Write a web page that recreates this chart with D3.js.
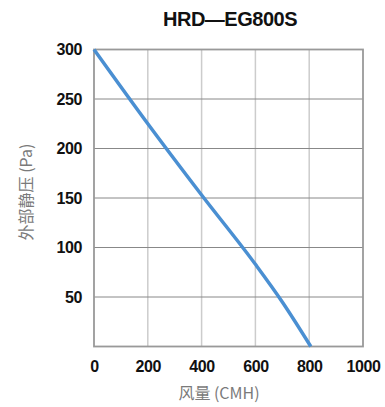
<!DOCTYPE html>
<html><head><meta charset="utf-8">
<script src="https://cdn.jsdelivr.net/npm/d3@7"></script>
<style>
html,body{margin:0;padding:0;background:#fff;}
svg{display:block;}
</style></head>
<body>
<svg id="chart" width="385" height="407"></svg>
<script>
const title = "HRD\u2014EG800S";
const xLabel = "风量 (CMH)";
const yLabel = "外部静压 (Pa)";
const xTicks = [0, 200, 400, 600, 800, 1000];
const yTicks = [50, 100, 150, 200, 250, 300];
const airflow = [0, 200, 400, 600, 700, 806];
const pressure = [300, 225, 153, 83, 45, 0];

const svg = d3.select("#chart");
const mLeft = 94, mRight = 363, mTop = 49.5, mBottom = 346.5;
const x = d3.scaleLinear().domain([0, 1000]).range([mLeft, mRight]);
const y = d3.scaleLinear().domain([0, 300]).range([mBottom, mTop]);

svg.append("g").selectAll("line").data(xTicks.slice(1, -1)).join("line")
  .attr("x1", d => x(d)).attr("x2", d => x(d))
  .attr("y1", mTop).attr("y2", mBottom)
  .attr("stroke", "#cccccc").attr("stroke-width", 1.5);
svg.append("g").selectAll("line").data(yTicks.slice(0, -1)).join("line")
  .attr("x1", mLeft).attr("x2", mRight)
  .attr("y1", d => y(d)).attr("y2", d => y(d))
  .attr("stroke", "#888888").attr("stroke-width", 1);
svg.append("rect").attr("x", mLeft).attr("y", mTop)
  .attr("width", mRight - mLeft).attr("height", mBottom - mTop)
  .attr("fill", "none").attr("stroke", "#999999").attr("stroke-width", 1.8);

const tickFont = g => g.selectAll("text")
  .attr("font-family", "Liberation Sans, Arial, sans-serif")
  .attr("font-size", 16).attr("font-weight", "bold").attr("fill", "#111")
  .attr("letter-spacing", "-0.4");

const xAxis = d3.axisBottom(x).tickValues(xTicks).tickFormat(d3.format("d"))
  .tickSize(0).tickPadding(14);
const gx = svg.append("g").attr("transform", `translate(0,${mBottom})`).call(xAxis);
gx.select(".domain").remove();
gx.call(tickFont);

const yAxis = d3.axisLeft(y).tickValues(yTicks).tickFormat(d3.format("d"))
  .tickSize(0).tickPadding(12);
const gy = svg.append("g").attr("transform", `translate(${mLeft},0)`).call(yAxis);
gy.select(".domain").remove();
gy.call(tickFont);

const line = d3.line().x((d, i) => x(airflow[i])).y((d, i) => y(pressure[i]))
  .curve(d3.curveMonotoneX);
svg.append("path").datum(airflow).attr("d", line)
  .attr("fill", "none").attr("stroke", "#4a8fd2").attr("stroke-width", 3.5);

svg.append("text").attr("x", 230).attr("y", 26).attr("text-anchor", "middle")
  .attr("font-family", "Liberation Sans, Arial, sans-serif")
  .attr("font-size", 20).attr("font-weight", "bold").attr("fill", "#111")
  .attr("letter-spacing", "-0.5")
  .text(title);

svg.append("text").attr("x", 219).attr("y", 399).attr("text-anchor", "middle")
  .attr("font-family", "Noto Sans CJK SC, sans-serif")
  .attr("font-size", 16).attr("fill", "#7a7a7a").text(xLabel);
svg.append("text").attr("transform", "translate(32,192) rotate(-90)")
  .attr("text-anchor", "middle")
  .attr("font-family", "Noto Sans CJK SC, sans-serif")
  .attr("font-size", 16).attr("fill", "#7a7a7a").text(yLabel);
</script>
</body></html>
